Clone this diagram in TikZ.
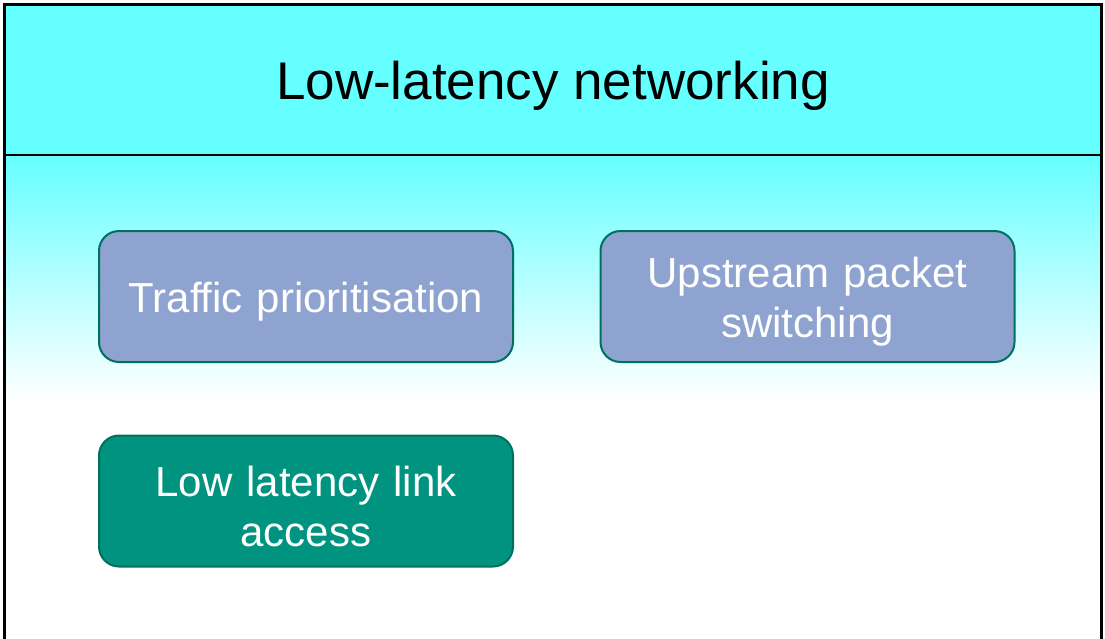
\documentclass[tikz,border=0pt]{standalone}
\usepackage{fontspec}
\setmainfont{Liberation Sans}
\definecolor{headcyan}{HTML}{66FFFF}
\definecolor{boxblue}{HTML}{8FA3D1}
\definecolor{boxteal}{HTML}{009480}
\definecolor{edgeteal}{HTML}{006F60}
\begin{document}
\begin{tikzpicture}[x=1pt,y=-1pt,
    topic/.style={draw=edgeteal, line width=2pt, rounded corners=20pt, fill=boxblue,
      minimum width=414pt, minimum height=131pt, inner sep=0pt},
    hotbox/.style={topic, fill=boxteal},
    topictext/.style={text width=380pt, align=center, text=white,
      font=\fontsize{42}{50}\selectfont, inner sep=0pt}]
    \useasboundingbox (0,0) rectangle (1105,638);
    % header and fading body
    \fill [headcyan] (5,5) rectangle (1101,155);
    \shade [top color=headcyan, bottom color=white] (5,155) rectangle (1101,400);
    \draw [black, line width=2.5pt] (4.5,640) -- (4.5,4.5) -- (1101.5,4.5) -- (1101.5,640);
    \draw [black, line width=2.5pt] (4.5,155) -- (1101.5,155);
    \node [font=\fontsize{53}{60}\selectfont] (title) at (553,86) {Low-latency networking};
    % boxes
    \node [topic] (traffic) at (306,296.5) {};
    \node [topictext] (traffictext) at ([yshift=-5pt]traffic.center) {Traffic prioritisation};
    \node [topic] (upstream) at (807.5,296.5) {};
    \node [topictext] (upstreamtext) at ([yshift=-5pt]upstream.center) {Upstream packet\\switching};
    \node [hotbox] (lowlink) at (306,501) {};
    \node [topictext] (lowlinktext) at ([yshift=-5pt]lowlink.center) {Low latency link\\access};
\end{tikzpicture}
\end{document}
